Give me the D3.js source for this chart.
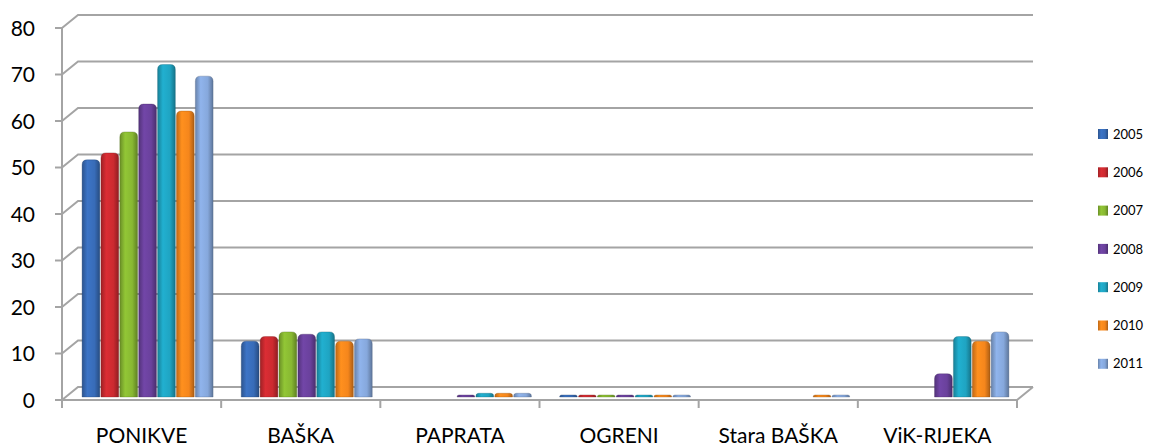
<!DOCTYPE html>
<html>
<head>
<meta charset="utf-8">
<script src="https://cdn.jsdelivr.net/npm/d3@7"></script>
<style>
  body { margin: 0; background: #fff; }
  text { font-family: Lato, "Open Sans", sans-serif; fill: #000; }
</style>
</head>
<body>
<script>
var w = 1156;
var h = 446;

var categories = ["PONIKVE", "BAŠKA", "PAPRATA", "OGRENI", "Stara BAŠKA", "ViK-RIJEKA"];
var years = ["2005", "2006", "2007", "2008", "2009", "2010", "2011"];
var colors = ["#386cb8", "#cc2a30", "#88b832", "#6a419c", "#1fa4c2", "#f5861c", "#86a8dc"];

// one array per year, values per category
var v2005 = [51, 12, 0, 0.3, 0, 0];
var v2006 = [52.5, 13, 0, 0.3, 0, 0];
var v2007 = [57, 14, 0, 0.3, 0, 0];
var v2008 = [63, 13.5, 0.3, 0.3, 0, 5];
var v2009 = [71.5, 14, 0.8, 0.3, 0, 13];
var v2010 = [61.5, 12, 0.8, 0.3, 0.3, 12];
var v2011 = [69, 12.5, 0.8, 0.3, 0.3, 14];
var series = [v2005, v2006, v2007, v2008, v2009, v2010, v2011];

var yTicks = [0, 10, 20, 30, 40, 50, 60, 70, 80];

// 3D wall offset
var dx = 16, dy = -13;
var bdy = -3; // bars sit a bit behind the front edge

var x0 = d3.scaleBand().domain(categories).range([62, 1017]);
var x1 = d3.scaleBand().domain(years).range([0, 131]).paddingInner(0.06);
var y = d3.scaleLinear().domain([0, 80]).range([400, 28]);

var svg = d3.select("body").append("svg").attr("width", w).attr("height", h);

// gradients for round-ish columns
var defs = svg.append("defs");
colors.forEach(function (c, i) {
  var base = d3.rgb(c);
  var g = defs.append("linearGradient").attr("id", "g" + i)
    .attr("x1", "0").attr("x2", "1").attr("y1", "0").attr("y2", "0");
  g.append("stop").attr("offset", "0%").attr("stop-color", base.darker(0.7));
  g.append("stop").attr("offset", "30%").attr("stop-color", base.brighter(0.2));
  g.append("stop").attr("offset", "70%").attr("stop-color", base);
  g.append("stop").attr("offset", "100%").attr("stop-color", base.darker(1));
});

var grid = svg.append("g").attr("stroke", "#a4a4a4").attr("stroke-width", 2).attr("fill", "none");

// back wall gridlines + side wall diagonals
yTicks.forEach(function (t) {
  var yy = y(t);
  grid.append("path").attr("d", "M62," + yy + "L" + (62 + dx) + "," + (yy + dy) + "L" + (1017 + dx) + "," + (yy + dy));
});

// floor front/right edges
grid.append("path").attr("d", "M62,400L1017,400L" + (1017 + dx) + "," + (400 + dy));
// left axis
grid.append("line").attr("x1", 62).attr("x2", 62).attr("y1", y(80)).attr("y2", 400);

// ticks
yTicks.forEach(function (t) {
  grid.append("line").attr("x1", 55).attr("x2", 62).attr("y1", y(t)).attr("y2", y(t));
});
categories.concat(["end"]).forEach(function (c, i) {
  var xx = 62 + i * x0.bandwidth();
  grid.append("line").attr("x1", xx).attr("x2", xx).attr("y1", 400).attr("y2", 408);
});

// bars
var bars = svg.append("g");
categories.forEach(function (cat, ci) {
  var left = x0(cat) + x0.bandwidth() / 2 + 6 - 65.5;
  series.forEach(function (vals, si) {
    var v = vals[ci];
    if (!v) return;
    var bx = left + x1(years[si]);
    var bw = x1.bandwidth();
    var top = y(v) + bdy;
    var base = 400 + bdy;
    var hgt = Math.max(base - top, 2);
    top = base - hgt;
    var r = Math.min(5, hgt / 2 + 1);
    bars.append("path")
      .attr("d", "M" + bx + "," + base +
        "L" + bx + "," + (top + r) +
        "Q" + bx + "," + top + " " + (bx + r) + "," + top +
        "L" + (bx + bw - r) + "," + top +
        "Q" + (bx + bw) + "," + top + " " + (bx + bw) + "," + (top + r) +
        "L" + (bx + bw) + "," + base + "Z")
      .attr("fill", "url(#g" + si + ")")
      .attr("stroke", d3.rgb(colors[si]).darker(1.5))
      .attr("stroke-opacity", 0.4)
      .attr("stroke-width", 0.8);
  });
});

// y labels
svg.append("g").selectAll("text").data(yTicks).enter().append("text")
  .attr("x", 35).attr("y", function (d) { return y(d); })
  .attr("dy", "0.36em")
  .attr("text-anchor", "end")
  .attr("font-size", "21px")
  .text(function (d) { return d; });

// category labels
svg.append("g").selectAll("text").data(categories).enter().append("text")
  .attr("x", function (d) { return x0(d) + x0.bandwidth() / 2; })
  .attr("y", 443)
  .attr("text-anchor", "middle")
  .attr("font-size", "21px")
  .text(function (d) { return d; });

// legend
var leg = svg.append("g");
years.forEach(function (yr, i) {
  var ly = 134 + i * 38.3;
  leg.append("rect").attr("x", 1098).attr("y", ly - 5).attr("width", 10).attr("height", 10)
    .attr("fill", "url(#g" + i + ")");
  leg.append("text").attr("x", 1113).attr("y", ly).attr("dy", "0.36em")
    .attr("font-size", "13px").text(yr);
});
</script>
</body>
</html>
